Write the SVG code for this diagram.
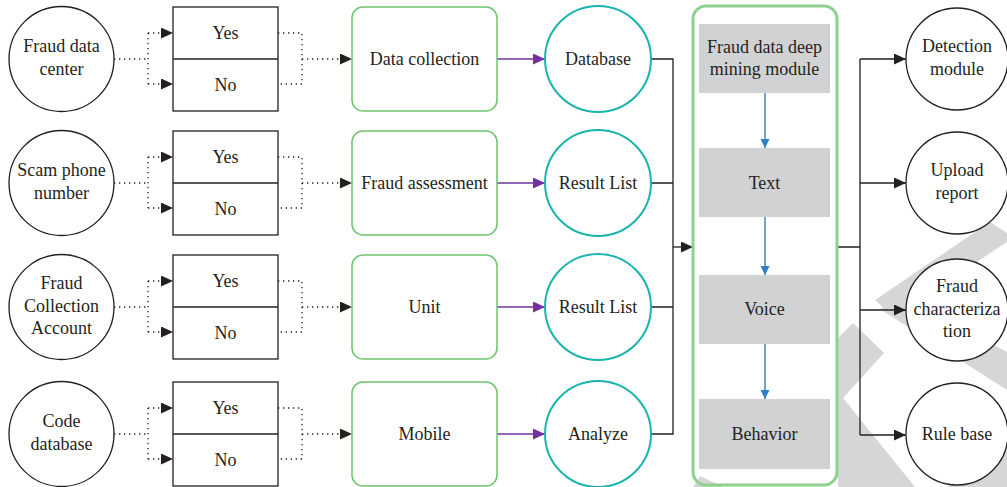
<svg xmlns="http://www.w3.org/2000/svg" width="1007" height="487" viewBox="0 0 1007 487">
<style>
text{font-family:'Liberation Serif','DejaVu Serif',serif;font-size:18px;fill:#231f20;text-anchor:middle}
.wm{fill:#d6d6d6}
.bc{fill:#fff;stroke:#231f20;stroke-width:1.3}
.yn{fill:#fff;stroke:#231f20;stroke-width:1.3}
.gr{fill:#fff;stroke:#6cc46c;stroke-width:1.5}
.tc{fill:#fff;stroke:#1ab4ae;stroke-width:2}
.gb{fill:#d1d2d4}
.dot{fill:none;stroke:#231f20;stroke-width:1.3;stroke-dasharray:1.3 3.7}
.blk{fill:none;stroke:#231f20;stroke-width:1.3}
.pur{fill:none;stroke:#7030a0;stroke-width:1.6}
.blu{fill:none;stroke:#2f7fc8;stroke-width:1.4}
</style>
<defs>
<marker id="ab" markerUnits="userSpaceOnUse" markerWidth="12" markerHeight="11" refX="12" refY="5.5" orient="auto"><path d="M0,0 L12,5.5 L0,11 z" fill="#231f20"/></marker>
<marker id="ap" markerUnits="userSpaceOnUse" markerWidth="12" markerHeight="11" refX="12" refY="5.5" orient="auto"><path d="M0,0 L12,5.5 L0,11 z" fill="#7030a0"/></marker>
<marker id="al" markerUnits="userSpaceOnUse" markerWidth="9" markerHeight="9" refX="9" refY="4.5" orient="auto"><path d="M0,0 L9,4.5 L0,9 z" fill="#2f7fc8"/></marker>
</defs>

<g id="watermark">
<polygon class="wm" points="875,300 990,222 1007,233 1007,242 893,317"/>
<polygon class="wm" points="880,309 905,298 1007,352 1007,390"/>
<polygon class="wm" points="853,323 884,353 843,398 915,487 838,487 838,338"/>
<polygon class="wm" points="947,487 1007,450 1007,487"/>
<polygon class="wm" points="693,487 700,476 724,487"/>
</g>

<g id="connectors">
<path class="dot" d="M114,59 H148 M148,33 V84"/>
<path class="dot" d="M148,33 H173" marker-end="url(#ab)"/>
<path class="dot" d="M148,84 H173" marker-end="url(#ab)"/>
<path class="dot" d="M278,33 H302 V84 H278"/>
<path class="dot" d="M302,59 H352" marker-end="url(#ab)"/>
<path class="pur" d="M497,59 H545" marker-end="url(#ap)"/>
<path class="dot" d="M114,183 H148 M148,157 V208"/>
<path class="dot" d="M148,157 H173" marker-end="url(#ab)"/>
<path class="dot" d="M148,208 H173" marker-end="url(#ab)"/>
<path class="dot" d="M278,157 H302 V208 H278"/>
<path class="dot" d="M302,183 H352" marker-end="url(#ab)"/>
<path class="pur" d="M497,183 H545" marker-end="url(#ap)"/>
<path class="dot" d="M114,307 H148 M148,281 V332"/>
<path class="dot" d="M148,281 H173" marker-end="url(#ab)"/>
<path class="dot" d="M148,332 H173" marker-end="url(#ab)"/>
<path class="dot" d="M278,281 H302 V332 H278"/>
<path class="dot" d="M302,307 H352" marker-end="url(#ab)"/>
<path class="pur" d="M497,307 H545" marker-end="url(#ap)"/>
<path class="dot" d="M114,434 H148 M148,408 V459"/>
<path class="dot" d="M148,408 H173" marker-end="url(#ab)"/>
<path class="dot" d="M148,459 H173" marker-end="url(#ab)"/>
<path class="dot" d="M278,408 H302 V459 H278"/>
<path class="dot" d="M302,434 H352" marker-end="url(#ab)"/>
<path class="pur" d="M497,434 H545" marker-end="url(#ap)"/>
<path class="blk" d="M651,59 H673 V434 H651 M651,183 H673 M651,307 H673"/>
<path class="blk" d="M673,247 H693" marker-end="url(#ab)"/>
<path class="blu" d="M765,93 V148" marker-end="url(#al)"/>
<path class="blu" d="M765,217 V275" marker-end="url(#al)"/>
<path class="blu" d="M765,344 V399" marker-end="url(#al)"/>
<path class="blk" d="M837,247 H860 M860,59 V435"/>
<path class="blk" d="M860,59 H906" marker-end="url(#ab)"/>
<path class="blk" d="M860,183 H906" marker-end="url(#ab)"/>
<path class="blk" d="M860,310 H906" marker-end="url(#ab)"/>
<path class="blk" d="M860,435 H906" marker-end="url(#ab)"/>
</g>

<g id="src1"><circle class="bc" cx="61.5" cy="59" r="52.5"/><text x="61.5" y="52">Fraud data</text><text x="61.5" y="75">center</text></g>
<g id="src2"><circle class="bc" cx="61.5" cy="183" r="52.5"/><text x="61.5" y="176">Scam phone</text><text x="61.5" y="199">number</text></g>
<g id="src3"><circle class="bc" cx="61.5" cy="307" r="52.5"/><text x="61.5" y="289">Fraud</text><text x="61.5" y="312">Collection</text><text x="61.5" y="334">Account</text></g>
<g id="src4"><circle class="bc" cx="61.5" cy="434" r="52.5"/><text x="61.5" y="427">Code</text><text x="61.5" y="450">database</text></g>

<g id="yn1"><rect class="yn" x="173" y="7" width="105" height="104"/><line class="blk" x1="173" y1="59" x2="278" y2="59"/><text x="225.5" y="39">Yes</text><text x="225.5" y="91">No</text></g>
<g id="yn2"><rect class="yn" x="173" y="131" width="105" height="104"/><line class="blk" x1="173" y1="183" x2="278" y2="183"/><text x="225.5" y="163">Yes</text><text x="225.5" y="215">No</text></g>
<g id="yn3"><rect class="yn" x="173" y="255" width="105" height="104"/><line class="blk" x1="173" y1="307" x2="278" y2="307"/><text x="225.5" y="287">Yes</text><text x="225.5" y="339">No</text></g>
<g id="yn4"><rect class="yn" x="173" y="382" width="105" height="104"/><line class="blk" x1="173" y1="434" x2="278" y2="434"/><text x="225.5" y="414">Yes</text><text x="225.5" y="466">No</text></g>

<g id="proc1"><rect class="gr" x="352" y="7" width="145" height="104" rx="11"/><text x="424.5" y="65">Data collection</text></g>
<g id="proc2"><rect class="gr" x="352" y="131" width="145" height="104" rx="11"/><text x="424.5" y="189">Fraud assessment</text></g>
<g id="proc3"><rect class="gr" x="352" y="255" width="145" height="104" rx="11"/><text x="424.5" y="313">Unit</text></g>
<g id="proc4"><rect class="gr" x="352" y="382" width="145" height="104" rx="11"/><text x="424.5" y="440">Mobile</text></g>

<g id="res1"><circle class="tc" cx="598" cy="59" r="53"/><text x="598" y="65">Database</text></g>
<g id="res2"><circle class="tc" cx="598" cy="183" r="53"/><text x="598" y="189">Result List</text></g>
<g id="res3"><circle class="tc" cx="598" cy="307" r="53"/><text x="598" y="313">Result List</text></g>
<g id="res4"><circle class="tc" cx="598" cy="434" r="53"/><text x="598" y="440">Analyze</text></g>

<g id="module">
<rect x="693" y="6" width="144" height="479" rx="13" fill="none" stroke="#8ed08e" stroke-width="3"/>
</g>
<g id="m1"><rect class="gb" x="699" y="24" width="131" height="69"/><text x="764.5" y="53">Fraud data deep</text><text x="764.5" y="75">mining module</text></g>
<g id="m2"><rect class="gb" x="699" y="148" width="131" height="69"/><text x="764.5" y="189">Text</text></g>
<g id="m3"><rect class="gb" x="699" y="275" width="131" height="69"/><text x="764.5" y="315">Voice</text></g>
<g id="m4"><rect class="gb" x="699" y="399" width="131" height="70"/><text x="764.5" y="440">Behavior</text></g>

<g id="out1"><circle class="bc" cx="957" cy="59" r="51"/><text x="957" y="52">Detection</text><text x="957" y="75">module</text></g>
<g id="out2"><circle class="bc" cx="957" cy="183" r="51"/><text x="957" y="176">Upload</text><text x="957" y="199">report</text></g>
<g id="out3"><circle class="bc" cx="957" cy="310" r="51"/><text x="957" y="292">Fraud</text><text x="957" y="315">characteriza</text><text x="957" y="337">tion</text></g>
<g id="out4"><circle class="bc" cx="957" cy="434" r="51"/><text x="957" y="440">Rule base</text></g>
</svg>
